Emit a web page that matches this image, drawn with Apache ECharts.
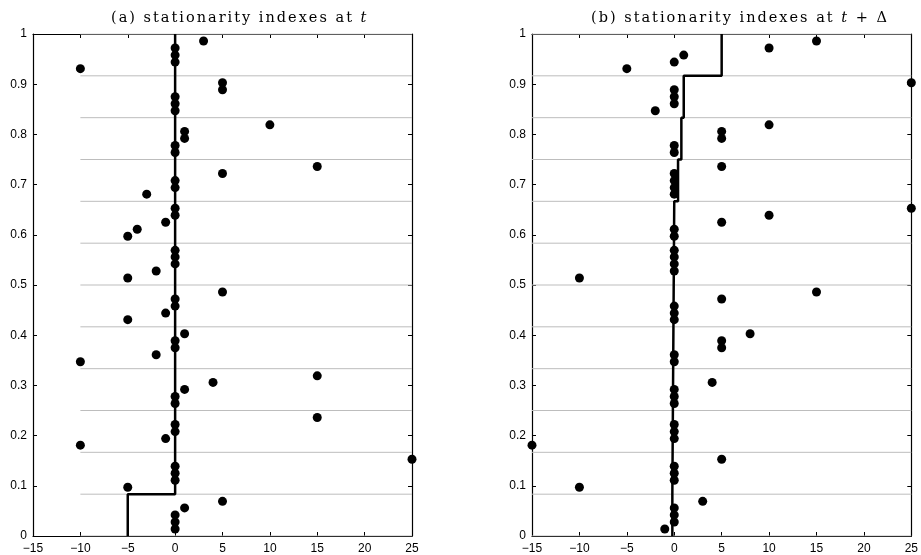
<!DOCTYPE html>
<html>
<head>
<meta charset="utf-8">
<script src="https://cdn.jsdelivr.net/npm/echarts@6/dist/echarts.min.js"></script>
<style>
html,body{margin:0;padding:0;background:#fff;}
#chart{width:921px;height:555px;}
</style>
</head>
<body>
<div id="chart"></div>
<script>
// ---- data ----
var titleLeftParts = [['n', '(a) stationarity indexes at '], ['i', 't']];
var titleRightParts = [['n', '(b) stationarity indexes at '], ['i', 't'], ['n', ' + \u0394']];
var xTicks = [-15, -10, -5, 0, 5, 10, 15, 20, 25];
var yTicks = [0, 0.1, 0.2, 0.3, 0.4, 0.5, 0.6, 0.7, 0.8, 0.9, 1];

// panel (a): stationarity indexes at t
var leftX = [0, 0, 0, 1, 5,  -5, 0, 0, 0, 25,  -10, -1, 0, 0, 15,  0, 0, 1, 4, 15,
             -10, -2, 0, 0, 1,  -5, -1, 0, 0, 5,  -5, -2, 0, 0, 0,  -5, -4, -1, 0, 0,
             -3, 0, 0, 5, 15,  0, 0, 1, 1, 10,  0, 0, 0, 5, 5,  -10, 0, 0, 0, 3];
var leftY = [0.014, 0.028, 0.042, 0.056, 0.069,  0.097, 0.111, 0.125, 0.139, 0.153,
             0.181, 0.194, 0.208, 0.222, 0.236,  0.264, 0.278, 0.292, 0.306, 0.319,
             0.347, 0.361, 0.375, 0.389, 0.403,  0.431, 0.444, 0.458, 0.472, 0.486,
             0.514, 0.528, 0.542, 0.556, 0.569,  0.597, 0.611, 0.625, 0.639, 0.653,
             0.681, 0.694, 0.708, 0.722, 0.736,  0.764, 0.778, 0.792, 0.806, 0.819,
             0.847, 0.861, 0.875, 0.889, 0.903,  0.931, 0.944, 0.958, 0.972, 0.986];

// panel (b): stationarity indexes at t + Δ
var rightX = [-1, 0, 0, 0, 3,  -10, 0, 0, 0, 5,  -15, 0, 0, 0,  0, 0, 0, 4,
              0, 0, 5, 5, 8,  0, 0, 0, 5, 15,  -10, 0, 0, 0, 0,  0, 0, 5, 10, 25,
              0, 0, 0, 0, 5,  0, 0, 5, 5, 10,  -2, 0, 0, 0, 25,  -5, 0, 1, 10, 15];
var rightY = [0.014, 0.028, 0.042, 0.056, 0.069,  0.097, 0.111, 0.125, 0.139, 0.153,
              0.181, 0.194, 0.208, 0.222,  0.264, 0.278, 0.292, 0.306,
              0.347, 0.361, 0.375, 0.389, 0.403,  0.431, 0.444, 0.458, 0.472, 0.486,
              0.514, 0.528, 0.542, 0.556, 0.569,  0.597, 0.611, 0.625, 0.639, 0.653,
              0.681, 0.694, 0.708, 0.722, 0.736,  0.764, 0.778, 0.792, 0.806, 0.819,
              0.847, 0.861, 0.875, 0.889, 0.903,  0.931, 0.944, 0.958, 0.972, 0.986];

// black step curves (corner values)
var stepLeftX = [-5, -5, 0, 0];
var stepLeftY = [0, 0.083, 0.083, 1];
var stepRightX = [-0.2, -0.2, 0, 0, 0.4, 0.4, 0.75, 0.75, 1, 1, 5, 5];
var stepRightY = [0, 0.083, 0.083, 0.667, 0.667, 0.75, 0.75, 0.833, 0.833, 0.917, 0.917, 1];

// grey horizontal levels and where they start
var levels = [0, 0.0833, 0.1667, 0.25, 0.3333, 0.4167, 0.5, 0.5833, 0.6667, 0.75, 0.8333, 0.9167, 1];
var levelStartLeft = -10;
var levelStartRight = -15;
var levelEnd = 25;

// ---- build chart ----
function zip(a, b) { return a.map(function (v, i) { return [v, b[i]]; }); }
var labelFont = { fontFamily: 'Liberation Sans', fontSize: 12, color: '#000' };
function fmtX(v) { return String(v).replace('-', '\u2212'); }

var grids = [
  { left: 33, width: 379, top: 34, height: 502 },
  { left: 532, width: 380, top: 34, height: 502 }
];
var xAxes = [], yAxes = [];
[0, 1].forEach(function (g) {
  ['bottom', 'top'].forEach(function (pos) {
    xAxes.push({
      type: 'value', gridIndex: g, position: pos, min: -15, max: 25, interval: 5,
      axisLine: { onZero: false, lineStyle: { color: '#000', width: 1.2 } },
      axisTick: { inside: true, length: 4, lineStyle: { color: '#000' } },
      axisLabel: pos === 'bottom' ? Object.assign({ formatter: fmtX, margin: 7 }, labelFont) : { show: false },
      splitLine: { show: false }
    });
  });
  ['left', 'right'].forEach(function (pos) {
    yAxes.push({
      type: 'value', gridIndex: g, position: pos, min: 0, max: 1, interval: 0.1,
      axisLine: { show: true, onZero: false, lineStyle: { color: '#000', width: 1.2 } },
      axisTick: { show: true, inside: true, length: 4, lineStyle: { color: '#000' } },
      axisLabel: pos === 'left' ? Object.assign({ margin: 6 }, labelFont) : { show: false },
      splitLine: { show: false }
    });
  });
});

var series = [];
[[levelStartLeft, 0, 0], [levelStartRight, 2, 2]].forEach(function (p) {
  levels.forEach(function (lv) {
    series.push({
      type: 'line', xAxisIndex: p[1], yAxisIndex: p[2], data: [[p[0], lv], [levelEnd, lv]],
      symbol: 'none', silent: true, z: 1,
      lineStyle: { color: '#bdbdbd', width: 1 }
    });
  });
});
series.push({
  type: 'line', xAxisIndex: 0, yAxisIndex: 0, data: zip(stepLeftX, stepLeftY),
  symbol: 'none', z: 3, lineStyle: { color: '#000', width: 2.5 }
});
series.push({
  type: 'line', xAxisIndex: 2, yAxisIndex: 2, data: zip(stepRightX, stepRightY),
  symbol: 'none', z: 3, lineStyle: { color: '#000', width: 2.5 }
});
series.push({
  type: 'scatter', xAxisIndex: 0, yAxisIndex: 0, data: zip(leftX, leftY),
  symbol: 'circle', symbolSize: 9, clip: false, z: 4, itemStyle: { color: '#000', opacity: 1 }
});
series.push({
  type: 'scatter', xAxisIndex: 2, yAxisIndex: 2, data: zip(rightX, rightY),
  symbol: 'circle', symbolSize: 9, clip: false, z: 4, itemStyle: { color: '#000', opacity: 1 }
});

// title as per-character rich text so it can be letter-spaced like the original
var serif = "DejaVu Serif";
var gap = 2.0;
var titleRich = {
  n: { fontFamily: serif, fontSize: 14.5, color: '#000', fontWeight: 'normal', padding: [0, gap, 0, 0] },
  i: { fontFamily: serif, fontSize: 14.5, color: '#000', fontStyle: 'italic', fontWeight: 'normal', padding: [0, gap, 0, 0] }
};
function spaced(parts) {
  var s = '';
  parts.forEach(function (p) {
    p[1].split('').forEach(function (ch) { s += '{' + p[0] + '|' + ch + '}'; });
  });
  return s;
}
var option = {
  animation: false,
  backgroundColor: '#fff',
  title: [
    { text: spaced(titleLeftParts), left: 111, top: 11, padding: 0,
      textStyle: { fontFamily: serif, fontSize: 14.5, rich: titleRich } },
    { text: spaced(titleRightParts), left: 591, top: 11, padding: 0,
      textStyle: { fontFamily: serif, fontSize: 14.5, rich: titleRich } }
  ],
  grid: grids,
  xAxis: xAxes,
  yAxis: yAxes,
  series: series
};
var chart = echarts.init(document.getElementById('chart'), null, { renderer: 'canvas' });
chart.setOption(option);
</script>
</body>
</html>
